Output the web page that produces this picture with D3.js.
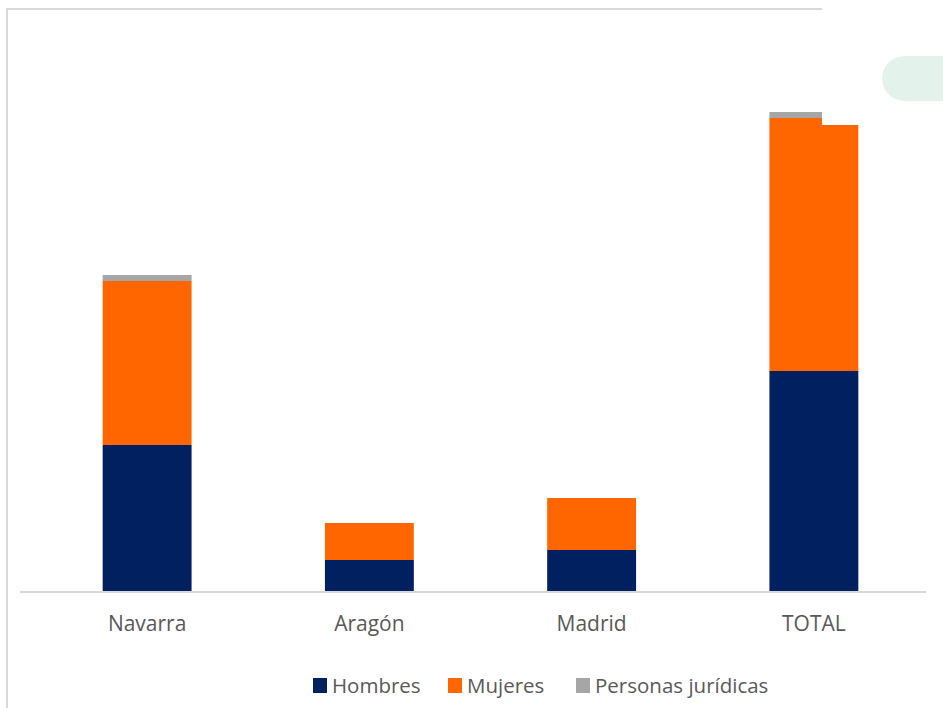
<!DOCTYPE html>
<html>
<head>
<meta charset="utf-8">
<script src="https://cdn.jsdelivr.net/npm/d3@7"></script>
<style>
    body { margin: 0; background: #fff; }
    text { font-family: "Open Sans", sans-serif; }
</style>
</head>
<body>
<div id="chart"></div>
<script>
var categories = ['Navarra', 'Aragón', 'Madrid', 'TOTAL'];
var seriesNames = ['Hombres', 'Mujeres', 'Personas jurídicas'];
var hombres = [147, 32, 42, 221];
var mujeres = [164, 37, 52, 253];
var juridicas = [6, 0, 0, 6];

var width = 943,
    height = 708,
    colors = ['#002060', '#ff6600', '#a6a6a6']
;

var rows = categories.map(function(c, i) {
    return { cat: c, Hombres: hombres[i], Mujeres: mujeres[i], 'Personas jurídicas': juridicas[i] };
});

var svg = d3.select('#chart')
    .append('svg')
    .attr('width', width)
    .attr('height', height)
;

// decoration of the page behind the chart
svg.append('rect')
    .attr('x', 882).attr('y', 56)
    .attr('width', 90).attr('height', 45)
    .attr('rx', 23)
    .style('fill', '#e4f2ec')
;

var x = d3.scaleBand()
    .domain(categories)
    .range([36, 925])
    .paddingInner(0.6)
    .paddingOuter(0.3)
;

var y = d3.scaleLinear()
    .domain([0, 480])
    .range([592, 112])
;

var stack = d3.stack().keys(seriesNames);

svg.append('g')
    .selectAll('g')
    .data(stack(rows))
    .enter()
    .append('g')
        .style('fill', function(d, i) { return colors[i]; })
    .selectAll('rect')
    .data(function(d) { return d; })
    .enter()
    .append('rect')
        .attr('x', function(d) { return x(d.data.cat); })
        .attr('y', function(d) { return y(d[1]); })
        .attr('width', x.bandwidth())
        .attr('height', function(d) { return y(d[0]) - y(d[1]); })
;

// the chart frame is cut at its right edge, the TOTAL bar shows a step there
svg.append('rect')
    .attr('x', 822).attr('y', 100)
    .attr('width', 40).attr('height', y(467) - 100)
    .style('fill', '#fff')
;

// frame
svg.append('path')
    .attr('d', 'M7,' + height + 'V9H822')
    .style('fill', 'none')
    .style('stroke', '#d9d9d9')
    .style('stroke-width', 2)
;

// category axis
var axis = svg.append('g')
    .attr('transform', 'translate(0,' + y(0) + ')')
    .call(d3.axisBottom(x).tickSize(0).tickPadding(24))
;
axis.select('.domain').remove();
axis.append('line')
    .attr('x1', 20).attr('x2', 926)
    .style('stroke', '#d9d9d9')
    .style('stroke-width', 2)
;
axis.selectAll('text')
    .style('font-family', '"Open Sans", sans-serif')
    .style('font-size', '21px')
    .style('fill', '#595959')
;

// legend
var legendX = [313, 448, 576];
var legend = svg.append('g')
    .selectAll('g')
    .data(seriesNames)
    .enter()
    .append('g')
        .attr('transform', function(d, i) { return 'translate(' + legendX[i] + ',678)'; })
;
legend.append('rect')
    .attr('width', 14).attr('height', 15)
    .style('fill', function(d, i) { return colors[i]; })
;
legend.append('text')
    .attr('x', 19).attr('y', 15)
    .style('font-size', '20.5px')
    .style('fill', '#595959')
    .text(function(d) { return d; })
;
</script>
</body>
</html>
